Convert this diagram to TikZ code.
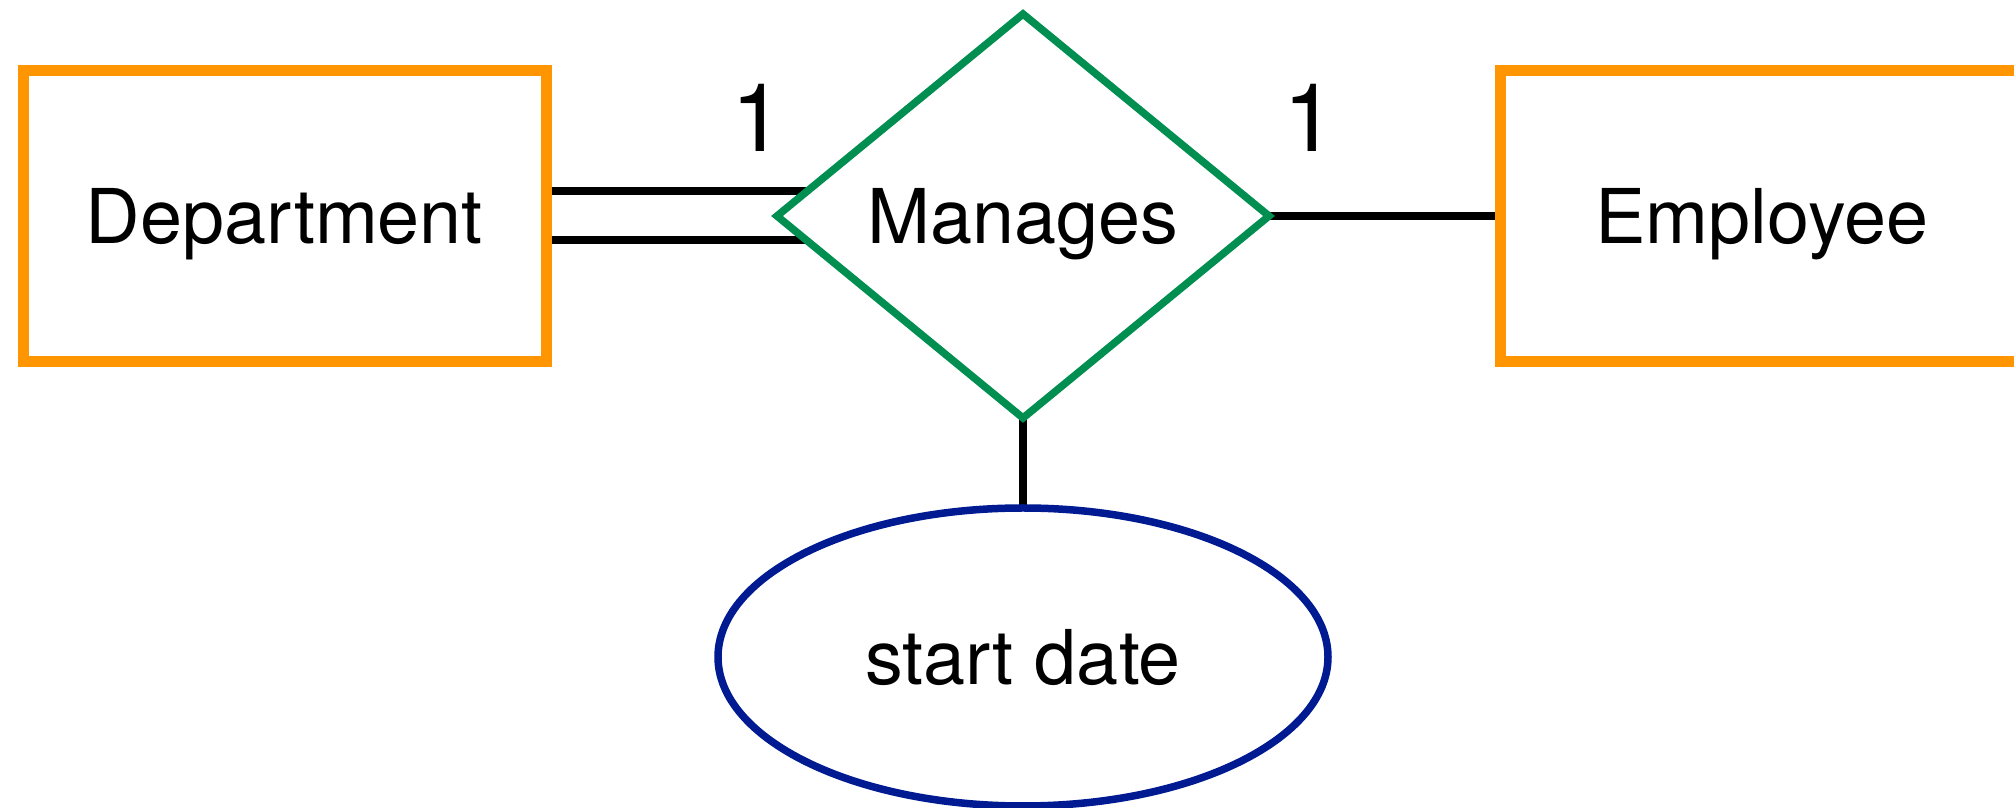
\documentclass[tikz,border=0pt]{standalone}
\usepackage{fontspec}
\setmainfont{TeX Gyre Heros}
\usetikzlibrary{positioning,shapes.geometric,backgrounds}
\definecolor{erOrange}{HTML}{FF9500}
\definecolor{erGreen}{HTML}{008F50}
\definecolor{erBlue}{HTML}{001A92}

\begin{document}
\begin{tikzpicture}[
      font=\fontsize{21.5}{26}\selectfont,
      node distance=2.31cm
    ]

    \tikzstyle{label} = [text height=15.5pt, text depth=0pt]
    \tikzstyle{entity} = [label, rectangle, minimum width=5.23cm, minimum height=2.91cm, outer sep=0pt, draw=erOrange, line width=0.11cm, fill=white]
    \tikzstyle{relation} = [label, diamond, aspect=1.22, minimum width=4.92cm, minimum height=4.04cm, inner sep=0pt, outer sep=0pt, draw=erGreen, line width=0.075cm, fill=white]
    \tikzstyle{attribute} = [label, ellipse, minimum width=6.1cm, minimum height=2.98cm, inner sep=0pt, outer sep=0pt, draw=erBlue, line width=0.075cm, fill=white]
    \tikzstyle{link} = [line width=0.08cm, draw=black]
    \tikzstyle{card} = [font=\fontsize{27}{32}\selectfont]

    \clip (0,0) rectangle (20.14,8.08);

    \node [entity] (dept) at (2.845,5.92) {Department};
    \node [relation] (manages) [right=of dept] {Manages};
    \node [entity] (employee) [right=of manages] {Employee};
    \node [attribute] (startDate) [node distance=0.9cm,below=of manages] {start date};

    \node [card] (deptCard) at (7.58,6.90) {1};
    \node [card] (empCard) at (13.10,6.90) {1};

    % lines sit behind the shapes so the white fill trims them
    \begin{scope}[on background layer]
    \draw [link, double=white, double distance=0.41cm, shorten >=-0.5cm] (dept) -- (manages);
    \draw [link] (manages) -- (employee);
    \draw [link] (manages) -- (startDate);
    \end{scope}

\end{tikzpicture}
\end{document}
